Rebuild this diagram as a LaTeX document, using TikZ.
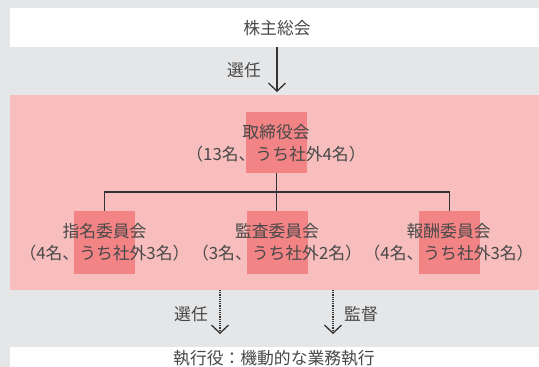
\documentclass[tikz,border=0pt]{standalone}
\usepackage{fontspec}
\setmainfont{Noto Sans CJK JP}
\usetikzlibrary{arrows.meta}
\definecolor{bggray}{HTML}{E5E6E8}
\definecolor{lpink}{HTML}{F8BEBE}
\definecolor{dpink}{HTML}{F28486}
\definecolor{txtc}{HTML}{484848}
\definecolor{linec}{HTML}{333333}
\tikzset{
  lbl/.style={text=txtc,font=\fontsize{16.8}{22}\selectfont,inner sep=0pt,align=center},
  darkbox/.style={fill=dpink,draw=none,inner sep=0pt},
  treeline/.style={draw=linec,line width=1.4pt},
  solidarr/.style={draw=linec,line width=1.3pt,-{Straight Barb[length=8pt,width=17pt,line width=1.3pt]}},
  dotarr/.style={draw=linec,line width=1.5pt,dash pattern=on 1.2pt off 1pt,-{Straight Barb[length=8pt,width=17pt,line width=1.3pt]}}
}
\begin{document}
\begin{tikzpicture}[x=1pt,y=-1pt]
\useasboundingbox (0,0) rectangle (539,367);
\fill[bggray] (0,0) rectangle (539,367);
\fill[white] (10,8) rectangle (539,47);
\fill[lpink] (10,95) rectangle (539,290);
\fill[white] (10,347) rectangle (539,367);
% dark boxes
\node[darkbox,minimum width=61pt,minimum height=61pt] (boardbg) at (276.5,142.5) {};
\node[darkbox,minimum width=61pt,minimum height=62.5pt] (c1bg) at (104.5,242.25) {};
\node[darkbox,minimum width=61pt,minimum height=62.5pt] (c2bg) at (277.5,242.25) {};
\node[darkbox,minimum width=61pt,minimum height=62.5pt] (c3bg) at (449.25,242.25) {};
% texts
\node[lbl] (gm) at (277,28) {株主総会};
\node[lbl] (sel1) at (244,70) {選任};
\node[lbl] (board) at (276,143) {取締役会\\（13名、うち社外4名）};
\node[lbl] (c1) at (104.5,242) {指名委員会\\（4名、うち社外3名）};
\node[lbl] (c2) at (277,242) {監査委員会\\（3名、うち社外2名）};
\node[lbl] (c3) at (448.6,242) {報酬委員会\\（4名、うち社外3名）};
\node[lbl] (sel2) at (191,314) {選任};
\node[lbl] (sup) at (361,314) {監督};
\node[lbl] (exec) at (274,358.5) {執行役：機動的な業務執行};
% connectors
\coordinate (t1) at (277,47);
\coordinate (t2) at (277,92);
\draw[solidarr] (t1) -- (t2);
\coordinate (jn) at (277,192);
\draw[treeline] (boardbg.south) -- (boardbg.south |- c2bg.north);
\draw[draw=linec,line width=1.2pt] (c1bg.north) |- (jn) -| (c3bg.north);
\coordinate (b1s) at (220,290);
\coordinate (b1e) at (220,334);
\coordinate (b2s) at (333,290);
\coordinate (b2e) at (333,334);
\draw[dotarr] (b1s) -- (b1e);
\draw[dotarr] (b2s) -- (b2e);
\end{tikzpicture}
\end{document}
